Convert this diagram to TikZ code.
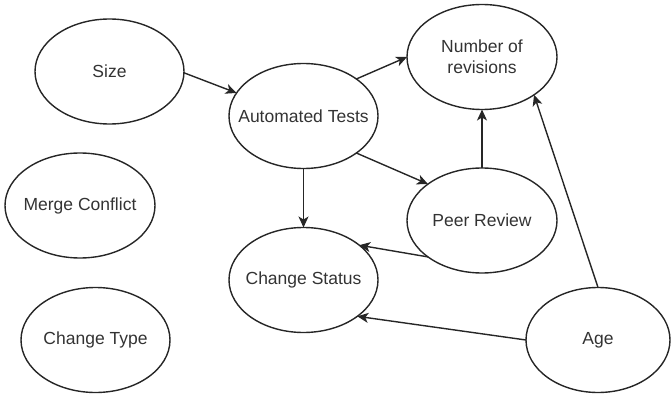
\documentclass[tikz,border=0pt]{standalone}
\usepackage{fontspec}
\setmainfont{Liberation Sans}
\usetikzlibrary{arrows.meta,shapes.geometric}
\newcommand{\ctext}[1]{\makebox[0pt]{#1}}
\begin{document}
\begin{tikzpicture}[x=1pt,y=-1pt,
  ev/.style={draw=black!85, line width=1.4pt, ellipse, inner sep=0pt, outer sep=0pt,
    minimum width=149pt, minimum height=105pt, text=black!80,
    font=\fontsize{17.5}{20.8}\selectfont, align=center},
  conn/.style={draw=black!85, line width=1.4pt, -{Stealth[length=11pt,width=10pt,inset=3pt]}}]
\useasboundingbox (0,0) rectangle (671,398);
\node[ev] (size) at (109.5,71.5) {\ctext{Size}};
\node[ev] (at) at (303.5,116) {\ctext{Automated Tests}};
\node[ev, minimum width=150pt] (nor) at (482,57) {\ctext{Number of}\\\ctext{revisions}};
\node[ev, minimum width=150pt] (mc) at (80,205.5) {\ctext{Merge Conflict}};
\node[ev, minimum width=150pt] (pr) at (482,220.5) {\ctext{Peer Review}};
\node[ev] (cs) at (303.5,280) {\ctext{Change Status}};
\node[ev] (ct) at (95.5,340) {\ctext{Change Type}};
\node[ev, minimum width=144pt] (age) at (598,340) {\ctext{Age}};
\draw[conn] (size.-1) -- (at.161);
\draw[conn] (at.35) -- (nor.west);
\draw[conn] (at.-35) -- (pr.146);
\draw[conn] (at.south) -- (cs.north);
\draw[conn] (pr.north) -- (nor.south);
\draw[conn] (pr.214) -- (cs.32);
\draw[conn] (age.west) -- (cs.-34);
\draw[conn] (age.north) -- (nor.-36);
\end{tikzpicture}
\end{document}
